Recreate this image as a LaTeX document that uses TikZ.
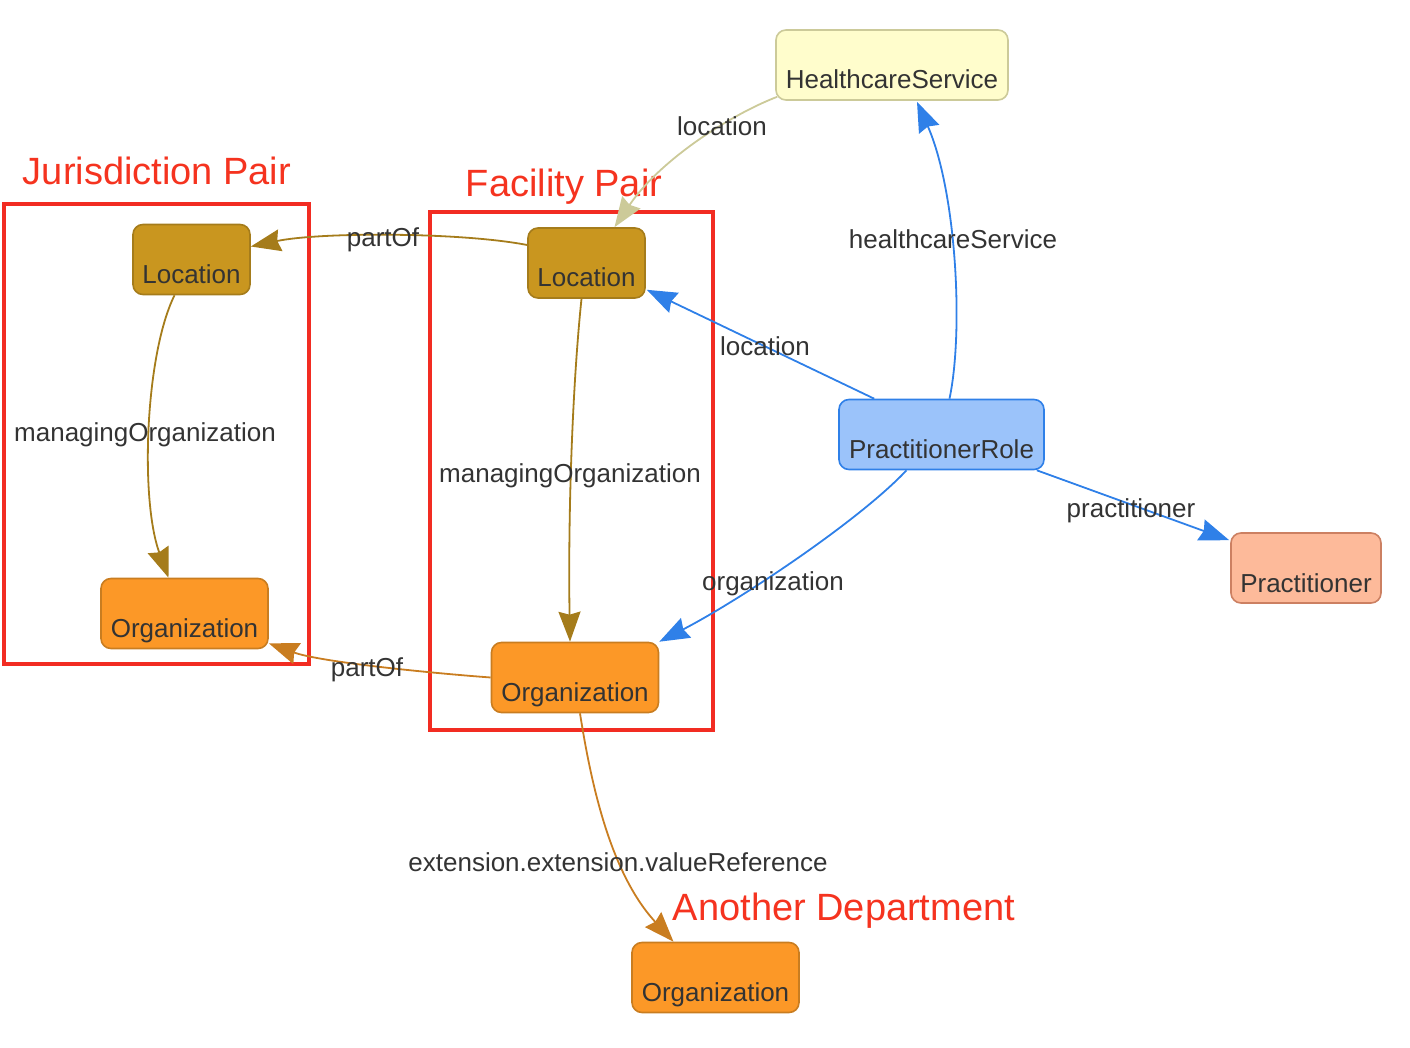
\documentclass[tikz,border=0pt]{standalone}
\usepackage{fontspec}
\setmainfont{Liberation Sans}
\usetikzlibrary{arrows.meta,calc}
\definecolor{txt}{HTML}{333333}
\definecolor{hsfill}{HTML}{FFFDCC}
\definecolor{hsline}{HTML}{CCCA99}
\definecolor{locfill}{HTML}{C9961F}
\definecolor{locline}{HTML}{A57C1B}
\definecolor{prfill}{HTML}{9BC3FA}
\definecolor{prline}{HTML}{2F80E8}
\definecolor{pracfill}{HTML}{FDBA9A}
\definecolor{pracline}{HTML}{CC8062}
\definecolor{orgfill}{HTML}{FC9827}
\definecolor{orgline}{HTML}{C97D20}
\definecolor{clred}{HTML}{F22C22}
\definecolor{labred}{HTML}{F5331F}
\begin{document}
\begin{tikzpicture}[x=0.5pt,y=-0.5pt,
  box/.style={draw, rounded corners=5pt, line width=0.8pt, inner sep=0pt,
    text height=29.5pt, text depth=5.5pt, font=\fontsize{13}{15}\selectfont, text=txt},
  hsbox/.style={box, fill=hsfill, draw=hsline, minimum width=116pt},
  locbox/.style={box, fill=locfill, draw=locline, minimum width=58.5pt},
  prbox/.style={box, fill=prfill, draw=prline, minimum width=102.5pt},
  pracbox/.style={box, fill=pracfill, draw=pracline, minimum width=75pt},
  orgbox/.style={box, fill=orgfill, draw=orgline, minimum width=83.5pt},
  cluster/.style={draw=clred, line width=1.7pt, inner sep=0pt},
  cllabel/.style={anchor=base, inner sep=0pt, text=labred, font=\fontsize{19}{22}\selectfont},
  lbl/.style={anchor=base, inner sep=0pt, text=txt, font=\fontsize{13}{15}\selectfont},
  e/.style={line width=0.9pt, -{Stealth[length=15pt,width=11pt,inset=1.5pt]}},
]
\useasboundingbox (0,0) rectangle (1410,1048);

% clusters
\node[cluster, minimum width=152.5pt, minimum height=230pt] (jcl) at (156.5,434) {};
\node[cluster, minimum width=141.5pt, minimum height=259pt] (fcl) at (571.5,471) {};
\node[cllabel] (jcllab) at (157,185) {Jurisdiction Pair};
\node[cllabel] (fcllab) at (564,197) {Facility Pair};
\node[cllabel] (adlab) at (844,920) {Another Department};

% nodes
\node[hsbox] (hs) at (892,65) {HealthcareService};
\node[locbox] (jloc) at (191.5,259.5) {Location};
\node[locbox] (floc) at (586.5,263) {Location};
\node[prbox] (pr) at (941.5,434.5) {PractitionerRole};
\node[pracbox] (prac) at (1306,568) {Practitioner};
\node[orgbox] (jorg) at (184.5,613.5) {Organization};
\node[orgbox] (forg) at (575,677.5) {Organization};
\node[orgbox] (aorg) at (715.5,977.5) {Organization};

% edges
\draw[e, draw=hsline] ($(hs.south west)+(2,-4)$) .. controls (730,115) and (660,160) .. ($(floc.north)+(28,0)$);
\draw[e, draw=prline] ($(pr.north)+(8,0)$) .. controls (964,330) and (956,190) .. ($(hs.south)+(25,1)$);
\draw[e, draw=prline] ($(pr.north west)+(36,0)$) -- ($(floc.south east)+(1,-9)$);
\draw[e, draw=prline] ($(pr.south east)+(-8,0)$) -- ($(prac.north west)+(-1,8)$);
\draw[e, draw=prline] ($(pr.south)+(-35,0)$) .. controls (860,520) and (740,600) .. (forg.north east);
\draw[e, draw=locline] ($(floc.west)+(0,-18)$) .. controls (460,232) and (320,232) .. ($(jloc.east)+(0,-13)$);
\draw[e, draw=locline] ($(jloc.south)+(-17,0)$) .. controls (145,355) and (140,500) .. ($(jorg.north)+(-16,0)$);
\draw[e, draw=locline] ($(floc.south)+(-5,0)$) .. controls (572,390) and (568,520) .. ($(forg.north)+(-5,0)$);
\draw[e, draw=orgline] (forg.west) .. controls (430,673) and (320,662) .. ($(jorg.south east)+(0,-6)$);
\draw[e, draw=orgline] ($(forg.south)+(5,0)$) .. controls (592,790) and (612,875) .. ($(aorg.north)+(-42,0)$);

% edge labels
\node[lbl] (l1) at (722,136) {location};
\node[lbl] (l2) at (953,249) {healthcareService};
\node[lbl] (l3) at (765,356) {location};
\node[lbl] (l4) at (1131,517) {practitioner};
\node[lbl] (l5) at (773,590) {organization};
\node[lbl] (l6) at (383,247) {partOf};
\node[lbl] (l7) at (145,442) {managingOrganization};
\node[lbl] (l8) at (570,482) {managingOrganization};
\node[lbl] (l9) at (367,676) {partOf};
\node[lbl] (l10) at (618,871) {extension.extension.valueReference};
\end{tikzpicture}
\end{document}
